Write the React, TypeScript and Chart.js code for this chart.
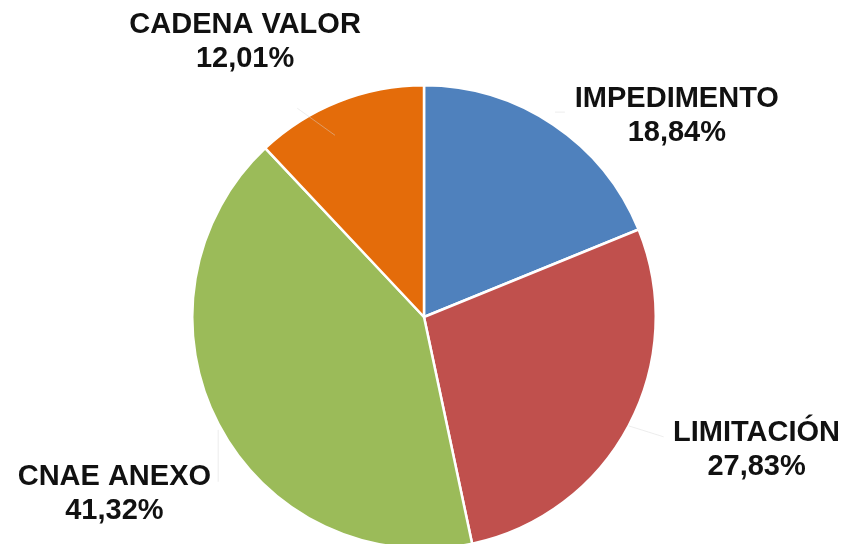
import React, { useEffect, useRef } from "react";
import { Chart, registerables } from "chart.js";

Chart.register(...registerables);

const categories = ["IMPEDIMENTO", "LIMITACIÓN", "CNAE ANEXO", "CADENA VALOR"];
const values = [18.84, 27.83, 41.32, 12.01];
const colors = ["#4F81BD", "#C0504D", "#9BBB59", "#E46C0A"];
// label centre offsets relative to pie centre, in units of radius
const labelOffsets = [
  [1.091, -0.866],
  [1.435, 0.573],
  [-1.336, 0.763],
  [-0.772, -1.185],
];
// faint leader lines, in units of radius relative to centre: [x1,y1,x2,y2]
const leaderLines = [
  [0.565, -0.884, 0.608, -0.884],
  [0.884, 0.47, 1.034, 0.517],
  [-0.888, 0.487, -0.888, 0.711],
  [-0.547, -0.901, -0.384, -0.784],
];

const labelPlugin = {
  id: "outsideLabels",
  afterDatasetsDraw(chart: any) {
    const ctx = chart.ctx;
    const meta = chart.getDatasetMeta(0);
    const arc0 = meta.data[0];
    if (!arc0) return;
    const cx = arc0.x;
    const cy = arc0.y;
    const r = arc0.outerRadius;
    ctx.save();
    ctx.strokeStyle = "rgba(215,215,215,0.45)";
    ctx.lineWidth = 1;
    leaderLines.forEach((l) => {
      ctx.beginPath();
      ctx.moveTo(cx + l[0] * r, cy + l[1] * r);
      ctx.lineTo(cx + l[2] * r, cy + l[3] * r);
      ctx.stroke();
    });
    ctx.fillStyle = "#111111";
    ctx.font = "bold 29px 'Liberation Sans', Arial, sans-serif";
    ctx.textAlign = "center";
    ctx.textBaseline = "middle";
    categories.forEach((c, i) => {
      const x = cx + labelOffsets[i][0] * r;
      const y = cy + labelOffsets[i][1] * r;
      ctx.fillText(c, x, y - 17);
      ctx.fillText(values[i].toFixed(2).replace(".", ",") + "%", x, y + 17);
    });
    ctx.restore();
  },
};

export default function App() {
  const ref = useRef<HTMLCanvasElement>(null);
  useEffect(() => {
    if (!ref.current) return;
    const chart = new Chart(ref.current, {
      type: "pie",
      data: {
        labels: categories,
        datasets: [
          {
            data: values,
            backgroundColor: colors,
            borderColor: "#ffffff",
            borderWidth: 2.5,
          },
        ],
      },
      options: {
        animation: false,
        responsive: false,
        maintainAspectRatio: false,
        layout: { padding: { top: 84, bottom: 10, left: 191, right: 190 } },
        plugins: {
          legend: { display: false },
          tooltip: { enabled: false },
        },
      },
      plugins: [labelPlugin],
    });
    return () => chart.destroy();
  }, []);
  return (
    <div
      style={{
        position: "fixed",
        left: 0,
        top: 0,
        width: 847,
        height: 544,
        overflow: "hidden",
        background: "#ffffff",
      }}
    >
      <canvas ref={ref} width={847} height={560} style={{ display: "block" }} />
    </div>
  );
}
